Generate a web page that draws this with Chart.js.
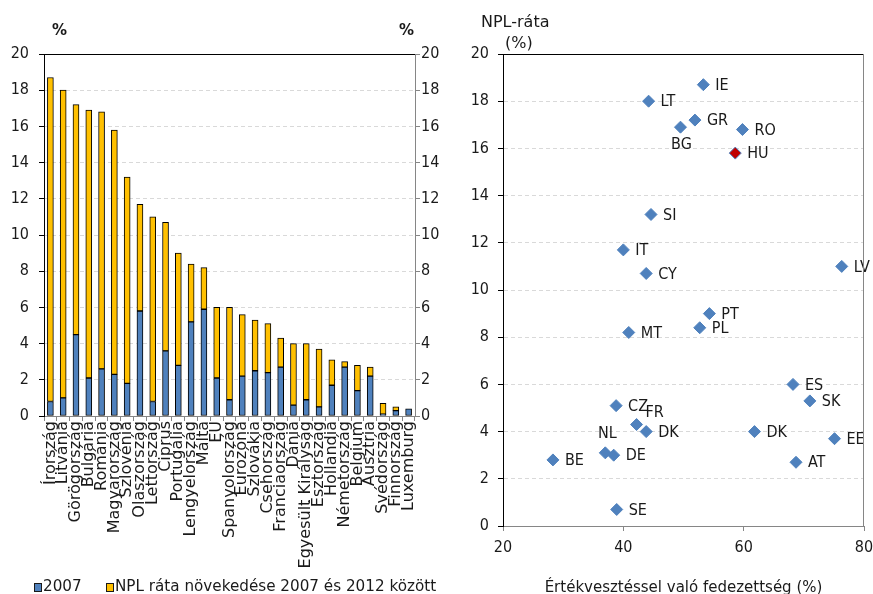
<!DOCTYPE html>
<html>
<head>
<meta charset="utf-8">
<script src="https://cdn.jsdelivr.net/npm/chart.js@4.4.1/dist/chart.umd.min.js"></script>
<style>
  html, body { margin: 0; padding: 0; background: #ffffff; }
  #wrap {
    position: relative; width: 873px; height: 594px; overflow: hidden;
    font-family: 'DejaVu Sans', 'Liberation Sans', sans-serif;
    color: #1a1a1a;
  }
  #barBox { position: absolute; left: 0; top: 0; width: 440px; height: 594px; }
  #scatBox { position: absolute; left: 440px; top: 0; width: 433px; height: 594px; }
  .txt { position: absolute; white-space: nowrap; line-height: 18px; }
  .pct { font-size: 15px; font-weight: bold; top: 21px; }
  .leg { top: 578px; font-size: 15.2px; line-height: 16px; }
  .sw { display: inline-block; width: 6px; height: 7px; border: 1px solid #1a1a1a; margin-right: 1px; vertical-align: -1px; }
</style>
</head>
<body>
<div id="wrap">
  <div id="barBox"><canvas id="bars" width="440" height="594"></canvas></div>
  <div id="scatBox"><canvas id="scatter" width="433" height="594"></canvas></div>

  <span class="txt pct" style="left:52px;">%</span>
  <span class="txt pct" style="left:399px;">%</span>

  <span class="txt leg" style="left:34px;"><span class="sw" style="background:#4F81BD"></span>2007</span>
  <span class="txt leg" style="left:106px;"><span class="sw" style="background:#FFC000"></span>NPL ráta növekedése 2007 és 2012 között</span>

  <span class="txt" style="left:481px; top:13px; font-size:16px;">NPL-ráta</span>
  <span class="txt" style="left:505px; top:34px; font-size:16px;">(%)</span>
</div>

<script>
// ---- NPL ratio by country: level in 2007 and increase up to 2012 (%) ----
const countries = [
  'Írország', 'Litvánia', 'Görögország', 'Bulgária', 'Románia', 'Magyarország',
  'Szlovénia', 'Olaszország', 'Lettország', 'Ciprus', 'Portugália', 'Lengyelország',
  'Málta', 'EU', 'Spanyolország', 'Eurozóna', 'Szlovákia', 'Csehország',
  'Franciaország', 'Dánia', 'Egyesült Királyság', 'Észtország', 'Hollandia',
  'Németország', 'Belgium', 'Ausztria', 'Svédország', 'Finnország', 'Luxemburg'
];
const npl2007 = [
  0.8, 1.0, 4.5, 2.1, 2.6, 2.3,
  1.8, 5.8, 0.8, 3.6, 2.8, 5.2,
  5.9, 2.1, 0.9, 2.2, 2.5, 2.4,
  2.7, 0.6, 0.9, 0.5, 1.7,
  2.7, 1.4, 2.2, 0.1, 0.3, 0.4
];
const nplRise = [
  17.9, 17.0, 12.7, 14.8, 14.2, 13.5,
  11.4, 5.9, 10.2, 7.1, 6.2, 3.2,
  2.3, 3.9, 5.1, 3.4, 2.8, 2.7,
  1.6, 3.4, 3.1, 3.2, 1.4,
  0.3, 1.4, 0.5, 0.6, 0.2, 0.0
];
const pctTicks = { min: 0, max: 20, step: 2 };

// ---- NPL ratio vs. impairment coverage ----
const codes    = ['IE', 'LT', 'GR', 'BG', 'RO', 'HU', 'SI', 'IT', 'CY', 'LV', 'PT', 'PL', 'MT',
                  'ES', 'SK', 'CZ', 'FR', 'DK', 'DK', 'EE', 'NL', 'DE', 'BE', 'AT', 'SE'];
const coverage = [53.3, 44.2, 51.9, 49.5, 59.8, 58.6, 44.6, 40.0, 43.8, 76.3, 54.3, 52.7, 40.9,
                  68.2, 71.0, 38.8, 42.2, 43.8, 61.8, 75.1, 37.0, 38.4, 28.3, 68.7, 38.9];
const nplRatio = [18.7, 18.0, 17.2, 16.9, 16.8, 15.8, 13.2, 11.7, 10.7, 11.0, 9.0, 8.4, 8.2,
                  6.0, 5.3, 5.1, 4.3, 4.0, 4.0, 3.7, 3.1, 3.0, 2.8, 2.7, 0.7];
const highlighted = 'HU';

const WIDE = "'DejaVu Sans', 'Liberation Sans', sans-serif";
const NARROW = "'DejaVu Sans Condensed', 'Liberation Sans Narrow', 'DejaVu Sans', sans-serif";
const INK = '#1a1a1a';
const BLUE = '#4F81BD';
const GOLD = '#FFC000';
const GRID = '#d9d9d9';
const AXIS_GREY = '#868686';

Chart.defaults.font.family = NARROW;
Chart.defaults.color = INK;
Chart.defaults.animation = false;

// top border of the plot area (black) and optional right border
function frame(rightColor) {
  return {
    id: 'frame',
    afterDraw(chart) {
      const { ctx, chartArea: a } = chart;
      ctx.save();
      ctx.lineWidth = 1;
      ctx.strokeStyle = '#000';
      ctx.beginPath();
      ctx.moveTo(a.left, a.top + 0.5);
      ctx.lineTo(a.right, a.top + 0.5);
      ctx.stroke();
      if (rightColor) {
        ctx.strokeStyle = rightColor;
        ctx.beginPath();
        ctx.moveTo(Math.round(a.right) - 0.5, a.top);
        ctx.lineTo(Math.round(a.right) - 0.5, a.bottom);
        ctx.stroke();
      }
      ctx.restore();
    }
  };
}

// ---------- stacked bars ----------
new Chart(document.getElementById('bars'), {
  type: 'bar',
  data: {
    labels: countries,
    datasets: [
      { label: '2007', data: npl2007, backgroundColor: BLUE, borderColor: '#000',
        borderWidth: 1, borderSkipped: false, barThickness: 6 },
      { label: 'NPL ráta növekedése 2007 és 2012 között', data: nplRise, backgroundColor: GOLD,
        borderColor: '#000', borderWidth: 1, borderSkipped: false, barThickness: 6 }
    ]
  },
  options: {
    responsive: false,
    layout: { padding: { top: 54, left: 0, right: 0, bottom: 0 } },
    plugins: { legend: { display: false }, tooltip: { enabled: false } },
    scales: {
      x: {
        stacked: true,
        offset: true,
        grid: { display: true, offset: true, drawOnChartArea: false, drawTicks: true,
                tickLength: 5, color: AXIS_GREY },
        border: { color: AXIS_GREY },
        ticks: { autoSkip: false, minRotation: 90, maxRotation: 90, padding: 0,
                 font: { size: 16, family: WIDE }, color: INK },
        afterFit(s) { s.height = 178; s.paddingLeft = 0; s.paddingRight = 0; }
      },
      y: {
        stacked: true,
        position: 'left',
        min: pctTicks.min, max: pctTicks.max,
        ticks: { stepSize: pctTicks.step, padding: 10, font: { size: 16 }, color: INK },
        grid: { color: GRID, tickLength: 5, tickColor: '#000' },
        border: { color: '#000', dash: [4, 3] },
        afterFit(s) { s.width = 44; }
      },
      y2: {
        position: 'right',
        min: pctTicks.min, max: pctTicks.max,
        ticks: { stepSize: pctTicks.step, padding: 1, font: { size: 16 }, color: INK },
        grid: { drawOnChartArea: false, tickLength: 5, tickColor: AXIS_GREY, color: AXIS_GREY },
        border: { color: AXIS_GREY },
        afterFit(s) { s.width = 25; }
      }
    }
  },
  plugins: [frame(null)]
});

// ---------- scatter with country codes ----------
const labelPlacement = {
  BG: { dx: 1,  dy: 18,  align: 'center' },
  NL: { dx: 2,  dy: -19, align: 'center' },
  FR: { dx: 9,  dy: -12, align: 'left' }
};
const defaultPlacement = { dx: 12, dy: 1, align: 'left' };

const codeLabels = {
  id: 'codeLabels',
  afterDatasetsDraw(chart) {
    const { ctx } = chart;
    const meta = chart.getDatasetMeta(0);
    ctx.save();
    ctx.font = '16px ' + NARROW;
    ctx.fillStyle = INK;
    ctx.textBaseline = 'middle';
    meta.data.forEach((pt, i) => {
      const p = labelPlacement[codes[i]] || defaultPlacement;
      ctx.textAlign = p.align;
      ctx.fillText(codes[i], pt.x + p.dx, pt.y + p.dy);
    });
    ctx.restore();
  }
};

new Chart(document.getElementById('scatter'), {
  type: 'scatter',
  data: {
    datasets: [{
      data: coverage.map((x, i) => ({ x, y: nplRatio[i] })),
      pointStyle: 'rectRot',
      pointRadius: 6,
      pointBorderWidth: 1,
      pointBorderColor: BLUE,
      pointBackgroundColor: codes.map(c => c === highlighted ? '#C00000' : BLUE)
    }]
  },
  options: {
    responsive: false,
    layout: { padding: { top: 54, left: 0, right: 9, bottom: 0 } },
    plugins: { legend: { display: false }, tooltip: { enabled: false } },
    scales: {
      x: {
        type: 'linear',
        min: 20, max: 80,
        ticks: { stepSize: 20, padding: 7, font: { size: 16 }, color: INK },
        grid: { drawOnChartArea: false, tickLength: 5, tickColor: AXIS_GREY, color: AXIS_GREY },
        border: { color: AXIS_GREY },
        title: { display: true, text: 'Értékvesztéssel való fedezettség (%)',
                 font: { size: 15, family: WIDE }, color: INK, padding: { top: 0, bottom: -3 } },
        afterFit(s) { s.height = 68; s.paddingLeft = 0; s.paddingRight = 0; }
      },
      y: {
        min: pctTicks.min, max: pctTicks.max,
        ticks: { stepSize: pctTicks.step, padding: 9, font: { size: 16 }, color: INK },
        grid: { color: GRID, tickLength: 5, tickColor: '#000' },
        border: { color: '#000', dash: [4, 3] },
        afterFit(s) { s.width = 63; }
      }
    }
  },
  plugins: [frame(AXIS_GREY), codeLabels]
});
</script>
</body>
</html>
